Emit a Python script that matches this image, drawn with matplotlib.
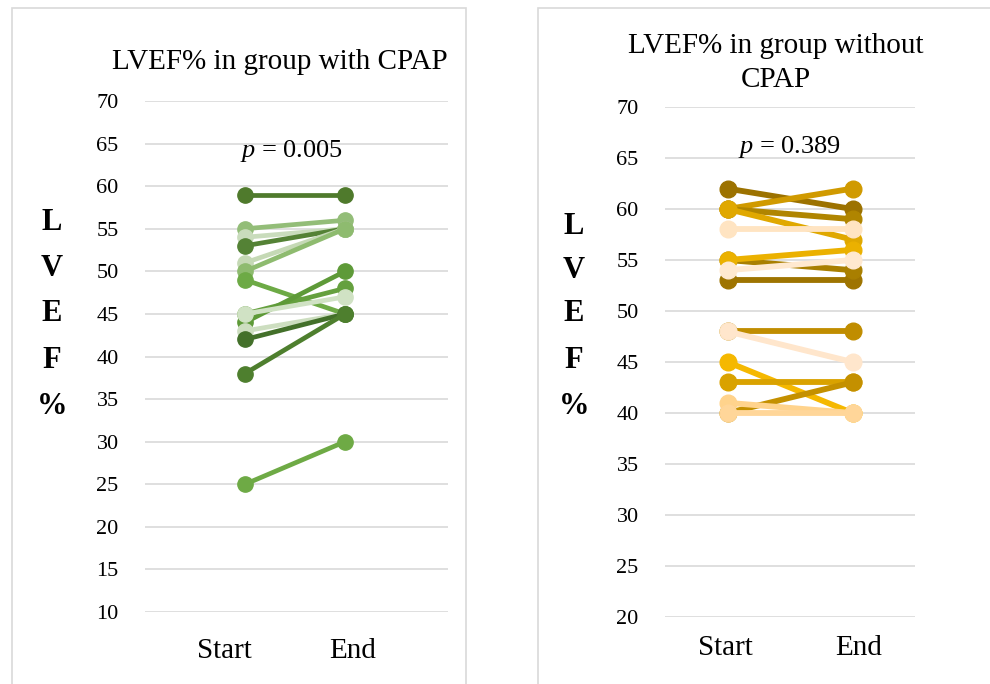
import matplotlib
matplotlib.use("Agg")
import matplotlib.pyplot as plt
from matplotlib.patches import Rectangle

plt.rcParams['font.family'] = ['Liberation Serif', 'DejaVu Serif']
plt.rcParams['mathtext.fontset'] = 'custom'
plt.rcParams['mathtext.it'] = 'Liberation Serif:italic'
plt.rcParams['mathtext.rm'] = 'Liberation Serif'

# ---------------- data ----------------
categories = ["Start", "End"]

left_title = "LVEF% in group with CPAP"
left_p = "0.005"
left_start = [59, 55, 54, 53, 51, 50, 49, 45, 44, 45, 43, 42, 38, 25]
left_end   = [59, 56, 55, 55, 55, 55, 45, 48, 50, 47, 45, 45, 45, 30]
left_colors = ['#4F7A2C', '#93BD78', '#C9DCBC', '#548235', '#C5D9B5', '#8EBB6F',
               '#6DAA45', '#65A03E', '#5E9A38', '#D0E2C4', '#CDDEC0', '#43702A',
               '#4E7F2E', '#6EAA45']
left_yticks = list(range(10, 75, 5))

right_title = "LVEF% in group without\nCPAP"
right_p = "0.389"
right_start = [53, 55, 62, 60, 60, 60, 58, 55, 54, 48, 48, 45, 43, 40, 41, 40]
right_end   = [53, 54, 60, 62, 59, 57, 58, 56, 55, 48, 45, 40, 43, 43, 40, 40]
right_colors = ['#9E7400', '#A97F00', '#9C7200', '#D09A00', '#B08500', '#E0A800',
                '#FFE4C2', '#EBB100', '#FFE9D0', '#C08D00', '#FFE6CC', '#F5B800',
                '#D9A200', '#C49000', '#FFD38C', '#FFD699']
right_yticks = list(range(20, 75, 5))

ylabel_letters = ["L", "V", "E", "F", "%"]

# ---------------- figure ----------------
fig = plt.figure(figsize=(9.9, 6.84), dpi=100)

# panel frames
fig.patches.append(Rectangle((12/990, -0.02), (466-12)/990, 1 - 8/684 + 0.02,
                             transform=fig.transFigure, fill=False,
                             edgecolor='#D9D9D9', linewidth=1.2))
fig.patches.append(Rectangle((538/990, -0.02), 0.5, 1 - 8/684 + 0.02,
                             transform=fig.transFigure, fill=False,
                             edgecolor='#D9D9D9', linewidth=1.2))


def draw_panel(rect, starts, ends, colors, yticks, xlim, tick_pos, tick_pad,
               title, title_xy, ptext, p_xy, lab_x, lab_ys, lw, ms):
    ax = fig.add_axes(rect)
    for s, e, c in zip(starts, ends, colors):
        ax.plot([0, 1], [s, e], color=c, linewidth=lw, marker='o',
                markersize=ms, solid_capstyle='butt', zorder=3)
    ax.set_ylim(yticks[0], yticks[-1])
    ax.set_xlim(*xlim)
    ax.set_yticks(yticks)
    ax.set_yticklabels([str(t) for t in yticks], fontsize=16)
    ax.set_xticks(tick_pos)
    ax.set_xticklabels(categories, fontsize=21)
    ax.tick_params(axis='y', length=0, pad=19)
    ax.tick_params(axis='x', length=0, pad=tick_pad)
    ax.grid(axis='y', color='#D9D9D9', linewidth=1.2, zorder=0)
    ax.set_axisbelow(True)
    for sp in ax.spines.values():
        sp.set_visible(False)
    ax.patch.set_alpha(0)
    fig.text(title_xy[0], title_xy[1], title, ha='center', va='center',
             fontsize=21, linespacing=1.38)
    ax.text(p_xy[0], p_xy[1], r"$p$" + " = " + ptext, ha='center',
            va='center', fontsize=19)
    for letter, yy in zip(ylabel_letters, lab_ys):
        fig.text(lab_x, yy, letter, ha='center', va='center', fontsize=22,
                 fontweight='bold')
    return ax


draw_panel([145/990, 1 - 612/684, (448-145)/990, (612-101)/684],
           left_start, left_end, left_colors, left_yticks,
           (-1.0, 2.03), [-0.21, 1.08], 19,
           left_title, (280/990, 1 - 62/684), left_p, (0.47, 64.1),
           52/990, [1 - y/684 for y in (222, 268, 314, 360, 406)], 3.4, 11)

draw_panel([665/990, 1 - 617/684, (915-665)/990, (617-107)/684],
           right_start, right_end, right_colors, right_yticks,
           (-0.5, 1.5), [-0.02, 1.05], 13,
           right_title, (776/990, 1 - 63/684), right_p, (0.5, 66.1),
           574/990, [1 - y/684 for y in (226, 270, 314, 360, 406)], 4.2, 12)

fig.savefig("out.png", dpi=100)
